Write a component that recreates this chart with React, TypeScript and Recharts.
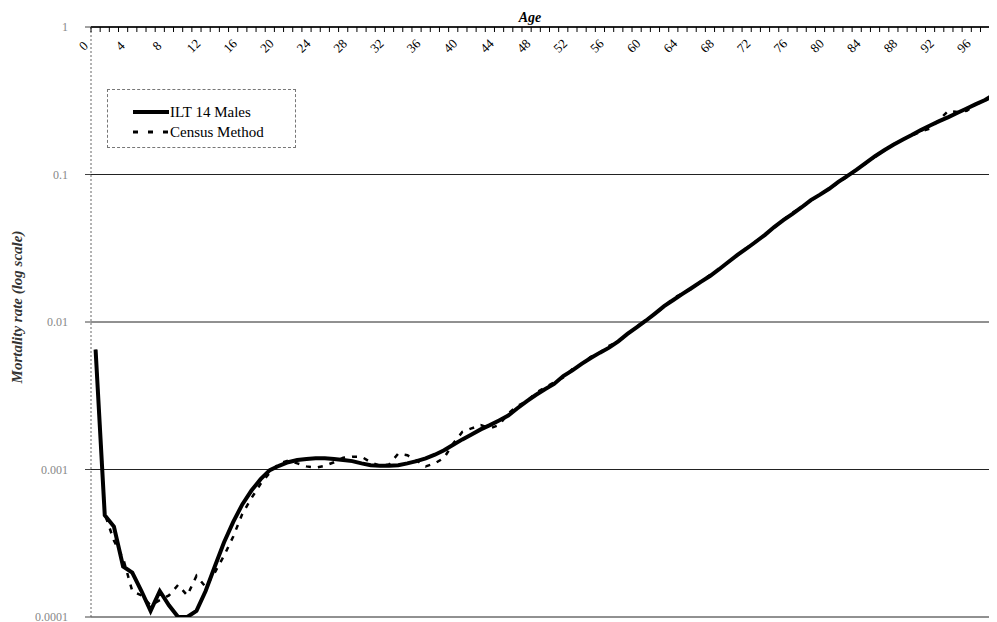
import { CartesianGrid, Legend, Line, LineChart, XAxis, YAxis } from "recharts";

// ages 0..99
const ages = Array.from({ length: 100 }, (_, i) => i);

const iltMales = [
  0.0065, 0.00049, 0.00041, 0.00022, 0.0002, 0.00015, 0.00011, 0.00015, 0.00012, 0.0001,
  0.0001, 0.00011, 0.00015, 0.00022, 0.00032, 0.00044, 0.00058, 0.00072, 0.00086, 0.00099,
  0.00106, 0.00112, 0.00116, 0.00118, 0.00119, 0.00119, 0.00118, 0.00116, 0.00114, 0.0011,
  0.00107, 0.00106, 0.00106, 0.00107, 0.0011, 0.00114, 0.00119, 0.00126, 0.00135, 0.00147,
  0.0016, 0.00173, 0.00187, 0.002, 0.00215, 0.00232, 0.0026, 0.0029, 0.0032, 0.0035,
  0.0038, 0.0043, 0.0047, 0.0052, 0.0057, 0.0062, 0.0067, 0.0074, 0.0083, 0.0092,
  0.0102, 0.0114, 0.0128, 0.0141, 0.0155, 0.017, 0.0187, 0.0205, 0.0228, 0.0255,
  0.0285, 0.0315, 0.035, 0.039, 0.044, 0.049, 0.054, 0.06, 0.067, 0.073,
  0.08, 0.089, 0.098, 0.108, 0.12, 0.133, 0.146, 0.159, 0.172, 0.185,
  0.2, 0.215, 0.23, 0.245, 0.262, 0.28, 0.3, 0.32, 0.35, 0.375,
];

const censusMethod = [
  0.0065, 0.0005, 0.00033, 0.00025, 0.00015, 0.00014, 0.00012, 0.00013, 0.00014, 0.000165,
  0.00014, 0.00019, 0.00016, 0.0002, 0.00026, 0.00035, 0.0005, 0.00064, 0.0008, 0.00095,
  0.0011, 0.00115, 0.0011, 0.00105, 0.00103, 0.00106, 0.00112, 0.0012, 0.00122, 0.00122,
  0.00112, 0.00106, 0.00108, 0.00128, 0.00125, 0.00115, 0.00105, 0.0011, 0.0012, 0.0015,
  0.0018, 0.0019, 0.002, 0.0019, 0.002, 0.0024, 0.0027, 0.0029, 0.0033, 0.0036,
  0.0039, 0.0042, 0.0048, 0.0052, 0.0058, 0.0062, 0.0069, 0.0074, 0.0082, 0.0093,
  0.0103, 0.0113, 0.0127, 0.0145, 0.0156, 0.0168, 0.0188, 0.0208, 0.0227, 0.0254,
  0.0283, 0.0318, 0.0352, 0.0388, 0.0437, 0.0494, 0.055, 0.06, 0.066, 0.0735,
  0.08, 0.088, 0.097, 0.109, 0.119, 0.132, 0.145, 0.16, 0.173, 0.183,
  0.196, 0.205, 0.235, 0.27, 0.265, 0.27, 0.3, 0.315, 0.345, 0.37,
];

const yTicks = [0.0001, 0.001, 0.01, 0.1, 1];
const yTickLabels = ["0.0001", "0.001", "0.01", "0.1", "1"];

const rows = ages.map((age, i) => ({ age, ilt: iltMales[i], census: censusMethod[i] }));

const AXIS_Y = 19;
const BAND = 9.17;

function AgeTick(props: any) {
  const { x, payload } = props;
  const v = payload.value;
  const lx = x - 9;
  const ly = 41;
  return (
    <g>
      <line x1={x - BAND / 2} x2={x - BAND / 2} y1={AXIS_Y} y2={AXIS_Y + 5} stroke="#000" strokeWidth={1} />
      {v % 4 === 0 && (
        <text
          x={lx}
          y={ly}
          transform={`rotate(-45 ${lx} ${ly})`}
          textAnchor="middle"
          fontFamily="Liberation Serif, serif"
          fontSize={13}
          fill="#000"
        >
          {v}
        </text>
      )}
    </g>
  );
}

function LegendBox() {
  return (
    <div
      style={{
        width: 187,
        height: 57,
        border: "1px dashed #777",
        position: "relative",
        background: "#fff",
      }}
    >
      <svg width={187} height={57} style={{ position: "absolute", left: 0, top: 0 }}>
        <line x1={25} x2={61} y1={22} y2={22} stroke="#000" strokeWidth={4} />
        <line x1={25} x2={61} y1={42} y2={42} stroke="#000" strokeWidth={3} strokeDasharray="5 10" />
        <text x={62} y={27} fontFamily="Liberation Serif, serif" fontSize={15}>ILT 14 Males</text>
        <text x={62} y={47} fontFamily="Liberation Serif, serif" fontSize={15}>Census Method</text>
      </svg>
    </div>
  );
}

export default function App() {
  return (
    <div style={{ width: 989, height: 614, overflow: "hidden", background: "#fff" }}>
      <LineChart width={1000} height={614} data={rows} margin={{ top: 0, right: 0, bottom: 5, left: 0 }}>
        <CartesianGrid horizontal vertical={false} stroke="#222" strokeWidth={1} />
        <XAxis
          dataKey="age"
          type="number"
          orientation="top"
          domain={[-0.5, 99.5]}
          ticks={ages}
          interval={0}
          height={AXIS_Y}
          tick={AgeTick}
          tickLine={false}
          axisLine={{ stroke: "#000", strokeWidth: 1.5 }}
          allowDataOverflow
          label={{
            content: () => (
              <text
                x={522}
                y={14}
                textAnchor="middle"
                fontFamily="Liberation Serif, serif"
                fontStyle="italic"
                fontWeight="bold"
                fontSize={14}
                fill="#000"
              >
                Age
              </text>
            ),
          }}
        />
        <YAxis
          type="number"
          scale="log"
          domain={[0.0001, 1]}
          ticks={yTicks}
          interval={0}
          width={83}
          allowDataOverflow
          tickSize={6}
          tickMargin={17}
          tickFormatter={(v: number) => yTickLabels[yTicks.indexOf(v)] ?? String(v)}
          tick={{ fontFamily: "Liberation Serif, serif", fontSize: 12, fill: "#888" }}
          tickLine={{ stroke: "#444" }}
          axisLine={{ stroke: "#666", strokeDasharray: "2 2" }}
          label={{
            content: () => (
              <text
                x={14}
                y={299}
                transform="rotate(-90 14 299)"
                textAnchor="middle"
                fontFamily="Liberation Serif, serif"
                fontStyle="italic"
                fontWeight="bold"
                fontSize={15}
                fill="#333"
              >
                Mortality rate (log scale)
              </text>
            ),
          }}
        />
        <Legend
          layout="horizontal"
          verticalAlign="middle"
          align="center"
          content={() => <LegendBox />}
          wrapperStyle={{ position: "absolute", left: 99, top: 81, width: 189, height: 59 }}
        />
        <Line
          dataKey="census"
          name="Census Method"
          stroke="#000"
          strokeWidth={2.5}
          strokeDasharray="5 7"
          dot={false}
          isAnimationActive={false}
        />
        <Line
          dataKey="ilt"
          name="ILT 14 Males"
          stroke="#000"
          strokeWidth={4}
          dot={false}
          isAnimationActive={false}
        />
      </LineChart>
    </div>
  );
}
